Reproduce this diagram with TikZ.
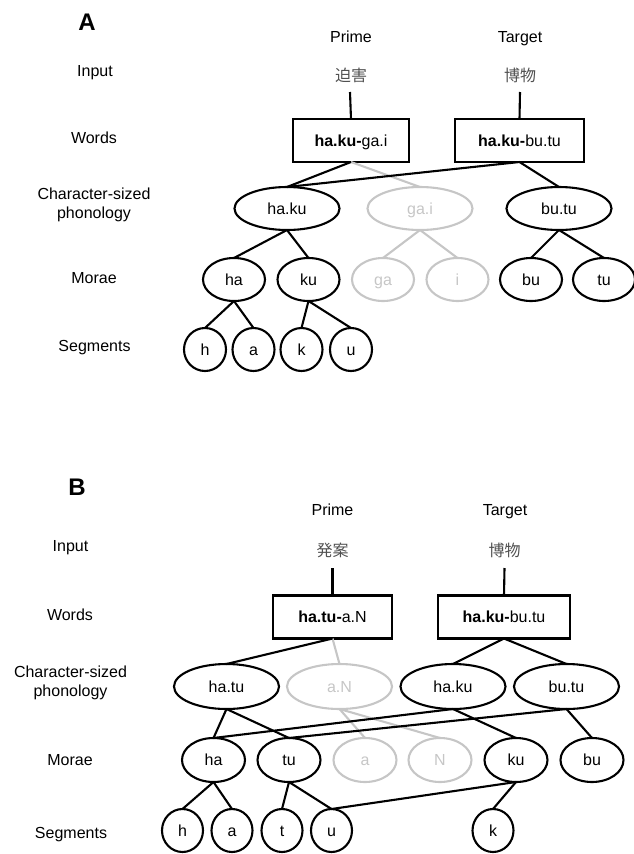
\documentclass[tikz,border=0pt]{standalone}
\usepackage{fontspec}
\setmainfont{Liberation Sans}
\newfontfamily\cjkfont{Noto Sans CJK JP}
\usetikzlibrary{shapes.geometric}
\definecolor{faded}{RGB}{198,198,198}
\definecolor{cjkgray}{RGB}{80,80,80}
\tikzset{
  every node/.style={font=\fontsize{16}{19}\selectfont, inner sep=0pt, outer sep=0pt},
  lbl/.style={anchor=base},
  lbltwo/.style={align=center},
  paneltitle/.style={anchor=base, font=\fontsize{24}{28}\selectfont\bfseries},
  kanji/.style={anchor=base, font=\fontsize{16}{19}\selectfont\cjkfont, text=cjkgray},
  wordbox/.style={draw, line width=2.1pt, minimum height=43pt, text height=11.5pt, text depth=0pt},
  phon/.style={draw, ellipse, line width=2.1pt, minimum width=105pt, text height=11.5pt, text depth=0pt},
  mora/.style={draw, ellipse, line width=2.1pt, minimum width=62pt, minimum height=43pt, text height=11.5pt, text depth=0pt},
  seg/.style={draw, ellipse, line width=2.1pt, minimum width=42pt, minimum height=43pt, text height=11.5pt, text depth=0pt},
  off/.style={draw=faded, text=faded},
  conn/.style={line width=2.1pt},
  fadedconn/.style={line width=2.1pt, draw=faded},
}
\begin{document}
\begin{tikzpicture}[x=1pt,y=-1pt]
\useasboundingbox (0,0) rectangle (634,854);

% ================= Panel A =================
\node[paneltitle] (titleA) at (87,30) {A};
\node[lbl] (primeA) at (351,42) {Prime};
\node[lbl] (targetA) at (520,42) {Target};
\node[lbl] (inputA) at (95,76) {Input};
\node[lbl] (wordsA) at (94,143) {Words};
\node[lbltwo] (charA) at (94,204.4) {Character-sized\\phonology};
\node[lbl] (moraeA) at (94,283) {Morae};
\node[lbl] (segA) at (94.5,351.5) {Segments};

\node[kanji] (kA1) at (351,81) {迫害};
\node[kanji] (kA2) at (520,81) {博物};
\coordinate (cA1) at (350,92);
\coordinate (cA2) at (520,92);

\node[wordbox, minimum width=116pt] (wA1) at (351,140.5) {\textbf{ha.ku-}ga.i};
\node[wordbox, minimum width=129pt] (wA2) at (519.5,140.5) {\textbf{ha.ku-}bu.tu};

\node[phon, minimum height=43pt] (pA1) at (287,208.5) {ha.ku};
\node[phon, minimum height=43pt, off] (pA2) at (420,208.5) {ga.i};
\node[phon, minimum height=43pt] (pA3) at (559,208.5) {bu.tu};

\node[mora] (mA1) at (234,279.5) {ha};
\node[mora] (mA2) at (308.5,279.5) {ku};
\node[mora, off] (mA3) at (383,279.5) {ga};
\node[mora, off] (mA4) at (457.5,279.5) {i};
\node[mora] (mA5) at (531,279.5) {bu};
\node[mora] (mA6) at (604,279.5) {tu};

\node[seg] (sA1) at (205,349.5) {h};
\node[seg] (sA2) at (253.5,349.5) {a};
\node[seg] (sA3) at (301.5,349.5) {k};
\node[seg] (sA4) at (351,349.5) {u};

% faded connectors A
\draw[fadedconn] (wA1.south) -- (pA2.north);
\draw[fadedconn] (pA2.south) -- (mA3.north);
\draw[fadedconn] (pA2.south) -- (mA4.north);
% black connectors A
\draw[conn] (cA1) -- (wA1.north);
\draw[conn] (cA2) -- (wA2.north);
\draw[conn] (wA1.south) -- (pA1.north);
\draw[conn] (wA2.south) -- (pA1.north);
\draw[conn] (wA2.south) -- (pA3.north);
\draw[conn] (pA1.south) -- (mA1.north);
\draw[conn] (pA1.south) -- (mA2.north);
\draw[conn] (pA3.south) -- (mA5.north);
\draw[conn] (pA3.south) -- (mA6.north);
\draw[conn] (mA1.south) -- (sA1.north);
\draw[conn] (mA1.south) -- (sA2.north);
\draw[conn] (mA2.south) -- (sA3.north);
\draw[conn] (mA2.south) -- (sA4.north);

% ================= Panel B =================
\node[paneltitle] (titleB) at (77,495) {B};
\node[lbl] (primeB) at (332.5,515) {Prime};
\node[lbl] (targetB) at (505,515) {Target};
\node[lbl] (inputB) at (70.5,551.5) {Input};
\node[lbl] (wordsB) at (70,620) {Words};
\node[lbltwo] (charB) at (70.5,682.4) {Character-sized\\phonology};
\node[lbl] (moraeB) at (70,765) {Morae};
\node[lbl] (segB) at (71,838.5) {Segments};

\node[kanji] (kB1) at (332.5,556.5) {発案};
\node[kanji] (kB2) at (504.5,556.5) {博物};
\coordinate (cB1) at (332.5,568);
\coordinate (cB2) at (504.5,568);

\node[wordbox, minimum width=119pt] (wB1) at (332.5,617) {\textbf{ha.tu-}a.N};
\node[wordbox, minimum width=132pt] (wB2) at (504,617) {\textbf{ha.ku-}bu.tu};

\node[phon, minimum height=45pt] (pB1) at (226.5,686.5) {ha.tu};
\node[phon, minimum height=45pt, off] (pB2) at (339.5,686.5) {a.N};
\node[phon, minimum height=45pt] (pB3) at (453,686.5) {ha.ku};
\node[phon, minimum height=45pt] (pB4) at (566.5,686.5) {bu.tu};

\node[mora, minimum width=63pt, minimum height=44pt] (mB1) at (213.5,760) {ha};
\node[mora, minimum width=63pt, minimum height=44pt] (mB2) at (289,760) {tu};
\node[mora, minimum width=63pt, minimum height=44pt, off] (mB3) at (365,760) {a};
\node[mora, minimum width=63pt, minimum height=44pt, off] (mB4) at (440,760) {N};
\node[mora, minimum width=63pt, minimum height=44pt] (mB5) at (516,760) {ku};
\node[mora, minimum width=63pt, minimum height=44pt] (mB6) at (592,760) {bu};

\node[seg, minimum width=41pt] (sB1) at (182.5,830.5) {h};
\node[seg, minimum width=41pt] (sB2) at (232,830.5) {a};
\node[seg, minimum width=41pt] (sB3) at (282,830.5) {t};
\node[seg, minimum width=41pt] (sB4) at (331.5,830.5) {u};
\node[seg, minimum width=41pt] (sB5) at (493,830.5) {k};

% faded connectors B
\draw[fadedconn] (wB1.south) -- (pB2.north);
\draw[fadedconn] (pB2.south) -- (mB3.north);
\draw[fadedconn] (pB2.south) -- (mB4.north);
% black connectors B
\draw[conn] (cB1) -- (wB1.north);
\draw[conn] (cB2) -- (wB2.north);
\draw[conn] (wB1.south) -- (pB1.north);
\draw[conn] (wB2.south) -- (pB3.north);
\draw[conn] (wB2.south) -- (pB4.north);
\draw[conn] (pB1.south) -- (mB1.north);
\draw[conn] (pB1.south) -- (mB2.north);
\draw[conn] (pB3.south) -- (mB1.north);
\draw[conn] (pB3.south) -- (mB5.north);
\draw[conn] (pB4.south) -- (mB2.north);
\draw[conn] (pB4.south) -- (mB6.north);
\draw[conn] (mB1.south) -- (sB1.north);
\draw[conn] (mB1.south) -- (sB2.north);
\draw[conn] (mB2.south) -- (sB3.north);
\draw[conn] (mB2.south) -- (sB4.north);
\draw[conn] (mB5.south) -- (sB4.north);
\draw[conn] (mB5.south) -- (sB5.north);
\end{tikzpicture}
\end{document}
